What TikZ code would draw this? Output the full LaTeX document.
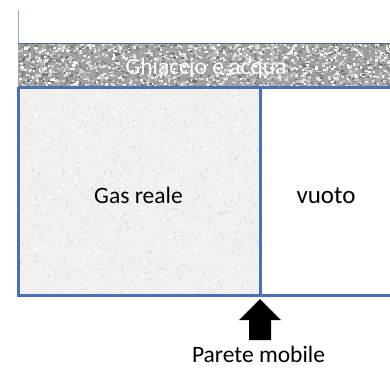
\documentclass[tikz,border=0pt]{standalone}
\usepackage{fontspec}
\setmainfont{Carlito}
\definecolor{edge}{RGB}{74,112,182}
\definecolor{iceedge}{RGB}{80,105,150}
\definecolor{thinline}{RGB}{150,172,212}
\definecolor{icebase}{RGB}{160,160,160}
\definecolor{gasbase}{RGB}{240,240,238}
\tikzset{
  lbl/.style={inner sep=0pt, anchor=base, font=\fontsize{23.5}{28}\selectfont},
  wall/.style={draw=edge, line width=3pt},
}
\begin{document}
\begin{tikzpicture}[x=1pt,y=-1pt]
\useasboundingbox (0,0) rectangle (390,367);
\fill[white] (0,0) rectangle (390,367);
\pgfmathsetseed{4242}
% ice band
\fill[icebase] (18,43) rectangle (390,87);
\begin{scope}
\clip (18,43) rectangle (390,87);
\foreach \i in {1,...,2600}{
  \pgfmathsetmacro\px{18+372*rnd}
  \pgfmathsetmacro\py{43+44*rnd}
  \pgfmathsetmacro\g{45+55*rnd}
  \fill[white!\g!black] (\px,\py) rectangle ++(2.6,2.2);
}
\end{scope}
% gas region
\fill[gasbase] (18,87) rectangle (259,296);
\begin{scope}
\clip (18,87) rectangle (259,296);
\foreach \i in {1,...,2500}{
  \pgfmathsetmacro\px{18+241*rnd}
  \pgfmathsetmacro\py{87+209*rnd}
  \pgfmathsetmacro\g{87+13*rnd}
  \fill[white!\g!black] (\px,\py) rectangle ++(1.8,1.8);
}
\end{scope}
% lines
\draw[draw=thinline, line width=1pt] (18,10) -- (18,43);
\draw[iceedge, line width=1.5pt] (18,43.5) -- (390,43.5);
\draw[wall] (18,87) -- (390,87);
\draw[wall] (18,87) -- (18,295) -- (390,295);
\draw[wall] (260,87) -- (260,295);
% named nodes
\node[lbl, text=white] (ice) at (206,74) {Ghiaccio e acqua};
\node[lbl] (gas) at (138.5,203) {Gas reale};
\node[lbl, font=\fontsize{25}{30}\selectfont] (vuoto) at (326,203) {vuoto};
\coordinate (tip) at (260,299);
\node[lbl] (parete) at (258.5,362) {Parete mobile};
% arrow
\fill[black] (tip) -- (281,320) -- (271,320) -- (271,340) -- (249,340) -- (249,320) -- (239,320) -- cycle;
\end{tikzpicture}
\end{document}
